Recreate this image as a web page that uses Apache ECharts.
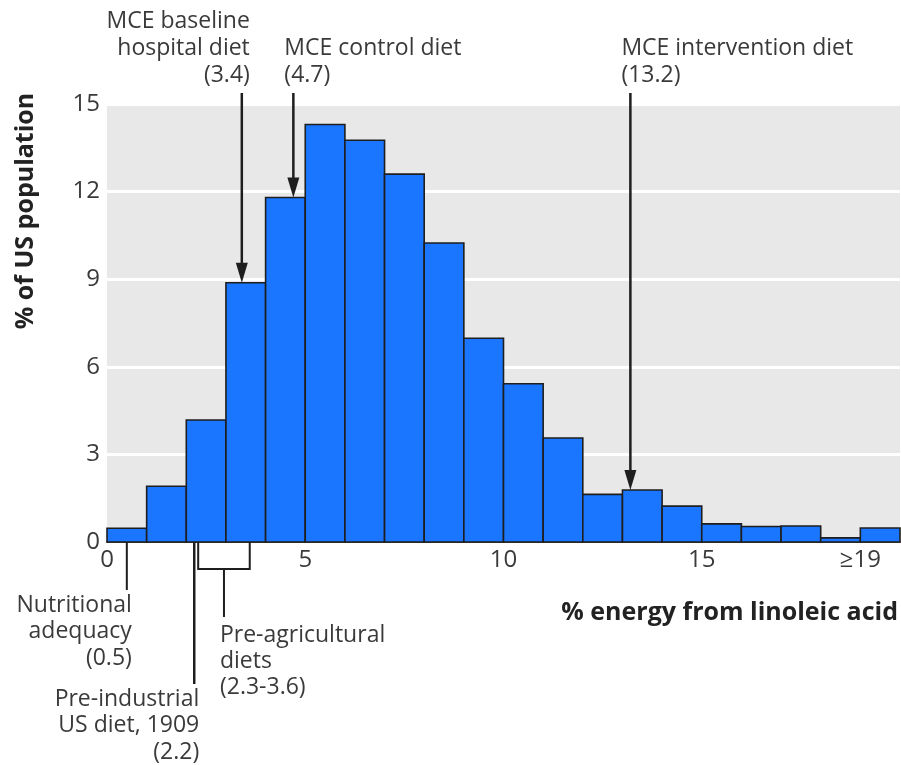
<!DOCTYPE html>
<html>
<head>
<meta charset="utf-8">
<script src="https://cdn.jsdelivr.net/npm/echarts@6/dist/echarts.min.js"></script>
<style>
html,body{margin:0;padding:0;background:#fff;}
#chart{width:901px;height:765px;}
</style>
</head>
<body>
<div id="chart"></div>
<script>
// ---- data ----
const binStart = [0, 1, 2, 3, 4, 5, 6, 7, 8, 9, 10, 11, 12, 13, 14, 15, 16, 17, 18, 19];
const binEnd   = [1, 2, 3, 4, 5, 6, 7, 8, 9, 10, 11, 12, 13, 14, 15, 16, 17, 18, 19, 20];
const pctPopulation = [0.47, 1.91, 4.18, 8.88, 11.8, 14.3, 13.76, 12.6, 10.24, 6.98,
                       5.42, 3.56, 1.63, 1.78, 1.23, 0.62, 0.53, 0.55, 0.14, 0.48];
const xTickValues = [0, 5, 10, 15, 19];
const xTickLabels = ['0', '5', '10', '15', '≥19'];
const yTickInterval = 3;

const topNoteValues = [3.4, 4.7, 13.2];
const topNoteTexts = ['MCE baseline\nhospital diet\n(3.4)', 'MCE control diet\n(4.7)', 'MCE intervention diet\n(13.2)'];
const topNoteAlign = ['right', 'left', 'left'];

const bottomLineValues = [0.5, 2.2];
const bottomLineTexts = ['Nutritional\nadequacy\n(0.5)', 'Pre-industrial\nUS diet, 1909\n(2.2)'];
const rangeStart = [2.3];
const rangeEnd = [3.6];
const rangeTexts = ['Pre-agricultural\ndiets\n(2.3-3.6)'];

// ---- styles ----
const FONT = '"Open Sans", "Noto Sans", sans-serif';
const TXT = '#3a3a3a';
const INK = '#1e1e1e';
const NOTE_FONT = '23px ' + FONT;

const chart = echarts.init(document.getElementById('chart'), null, {renderer: 'canvas'});

function barHeightAt(x) {
  for (let i = 0; i < binStart.length; i++) {
    if (x >= binStart[i] && x < binEnd[i]) return pctPopulation[i];
  }
  return 0;
}

const barData = binStart.map((s, i) => [s, binEnd[i], pctPopulation[i]]);
const topData = topNoteValues.map((v, i) => [v, barHeightAt(v), i]);
const bottomData = bottomLineValues.map((v, i) => [v, i]);
const rangeData = rangeStart.map((v, i) => [v, rangeEnd[i], i]);

const option = {
  animation: false,
  grid: {left: 107, right: 1, top: 104, bottom: 223, show: true, backgroundColor: '#e8e8e8', borderWidth: 0},
  xAxis: {
    type: 'value', min: 0, max: 20,
    axisLine: {show: true, onZero: false, lineStyle: {color: INK, width: 1.5}},
    axisTick: {show: false},
    splitLine: {show: false},
    axisLabel: {
      customValues: xTickValues,
      formatter: v => xTickLabels[xTickValues.indexOf(v)],
      color: TXT, fontFamily: FONT, fontSize: 24, margin: 6
    }
  },
  yAxis: {
    type: 'value', min: 0, max: 15, interval: yTickInterval,
    axisLine: {show: false}, axisTick: {show: false},
    splitLine: {show: true, lineStyle: {color: '#ffffff', width: 3}},
    axisLabel: {color: TXT, fontFamily: FONT, fontSize: 24, margin: 7}
  },
  graphic: [
    {type: 'text', right: 3, top: 600,
      style: {text: '% energy from linoleic acid', font: 'bold 25px ' + FONT, fill: '#222'}},
    {type: 'text', x: 26, y: 211, rotation: Math.PI / 2,
      style: {text: '% of US population', font: 'bold 25px ' + FONT, fill: '#222', align: 'center', verticalAlign: 'middle'}}
  ],
  series: [
    {
      type: 'custom', name: 'bars', data: barData, z: 2,
      renderItem: (params, api) => {
        const p0 = api.coord([api.value(0), 0]);
        const p1 = api.coord([api.value(1), api.value(2)]);
        return {type: 'rect',
          shape: {x: p0[0], y: p1[1], width: p1[0] - p0[0], height: p0[1] - p1[1]},
          style: {fill: '#1a76ff', stroke: INK, lineWidth: 1.6}};
      }
    },
    {
      type: 'custom', name: 'topNotes', data: topData, z: 5, clip: false,
      renderItem: (params, api) => {
        const x = api.value(0), h = api.value(1), idx = api.value(2);
        const tip = api.coord([x, h]);
        const top = api.coord([x, 15])[1] - 11;
        const ah = 20, aw = 6;
        const right = topNoteAlign[idx] === 'right';
        return {type: 'group', children: [
          {type: 'line', shape: {x1: tip[0], y1: top, x2: tip[0], y2: tip[1] - ah + 2},
            style: {stroke: INK, lineWidth: 2.5}},
          {type: 'polygon', shape: {points: [[tip[0] - aw, tip[1] - ah], [tip[0] + aw, tip[1] - ah], [tip[0], tip[1]]]},
            style: {fill: INK}},
          {type: 'text', x: tip[0] + (right ? 8 : -9), y: top - 4,
            style: {text: topNoteTexts[idx], align: right ? 'right' : 'left', verticalAlign: 'bottom',
              font: NOTE_FONT, lineHeight: 27, fill: TXT}}
        ]};
      }
    },
    {
      type: 'custom', name: 'bottomLines', data: bottomData, z: 5, clip: false,
      renderItem: (params, api) => {
        const x = api.value(0), idx = api.value(1);
        const p = api.coord([x, 0]);
        const len = idx === 0 ? 48 : 142;
        return {type: 'group', children: [
          {type: 'line', shape: {x1: p[0], y1: p[1], x2: p[0], y2: p[1] + len},
            style: {stroke: INK, lineWidth: idx === 0 ? 2 : 2.5}},
          {type: 'text', x: p[0] + 5, y: p[1] + len + 2,
            style: {text: bottomLineTexts[idx], align: 'right', verticalAlign: 'top',
              font: NOTE_FONT, lineHeight: 26.5, fill: TXT}}
        ]};
      }
    },
    {
      type: 'custom', name: 'ranges', data: rangeData, z: 5, clip: false,
      renderItem: (params, api) => {
        const a = api.coord([api.value(0), 0]);
        const b = api.coord([api.value(1), 0]);
        const idx = api.value(2);
        const by = a[1] + 27;
        const cx = (a[0] + b[0]) / 2;
        return {type: 'group', children: [
          {type: 'polyline', shape: {points: [[a[0], a[1]], [a[0], by], [b[0], by], [b[0], b[1]]]},
            style: {stroke: INK, lineWidth: 2, fill: null}},
          {type: 'line', shape: {x1: cx, y1: by, x2: cx, y2: a[1] + 75},
            style: {stroke: INK, lineWidth: 2}},
          {type: 'text', x: cx - 4, y: a[1] + 80,
            style: {text: rangeTexts[idx], align: 'left', verticalAlign: 'top',
              font: NOTE_FONT, lineHeight: 26, fill: TXT}}
        ]};
      }
    }
  ]
};
chart.setOption(option);
</script>
</body>
</html>
